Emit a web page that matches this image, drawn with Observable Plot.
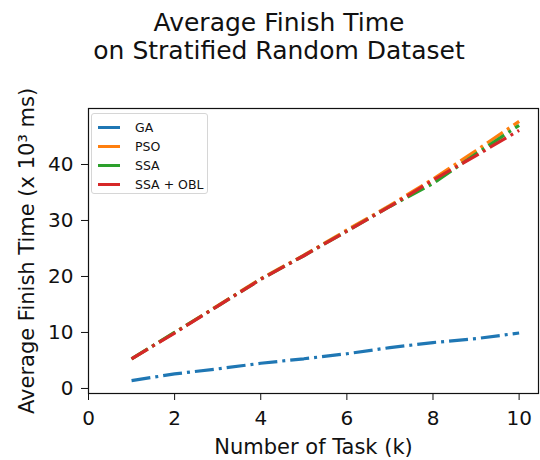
<!DOCTYPE html>
<html>
<head>
<meta charset="utf-8">
<script src="https://cdn.jsdelivr.net/npm/d3@7"></script>
<script src="https://cdn.jsdelivr.net/npm/@observablehq/plot@0.6"></script>
<style>
  body { margin: 0; background: #fff; font-family: "DejaVu Sans", sans-serif; }
  #wrap { position: relative; width: 540px; height: 460px; overflow: hidden; }
  #chart { position: absolute; left: 0; top: 60px; }
  #title { position: absolute; left: 0; top: 9px; width: 558px; text-align: center;
           font-size: 25px; line-height: 28px; color: #111; }
  #legend { position: absolute; left: 91px; top: 113px; width: 117px; height: 81px;
            box-sizing: border-box; border: 1px solid #d6d6d6; border-radius: 3px;
            background: rgba(255,255,255,0.85); font-size: 12.5px; color: #111; }
  .row { position: absolute; left: 0; height: 19px; line-height: 19px; width: 100%; }
  .sw { position: absolute; left: 6px; top: 8px; width: 22px; height: 3px; }
  .lab { position: absolute; left: 43px; top: 0; white-space: nowrap; }
</style>
</head>
<body>
<div id="wrap">
  <div id="chart"></div>
  <div id="title">Average Finish Time<br>on Stratified Random Dataset</div>
  <div id="legend"></div>
</div>
<script>
// Average finish time (x10^3 ms) per number of tasks, for each scheduler
const tasks = [1, 2, 3, 4, 5, 6, 7, 8, 9, 10];
const seriesNames = ["GA", "PSO", "SSA", "SSA + OBL"];
const ga     = [1.4, 2.6, 3.5, 4.5, 5.3, 6.2, 7.3, 8.2, 8.9, 9.9];
const pso    = [5.3, 10.0, 14.8, 19.6, 23.8, 28.3, 32.7, 37.4, 42.5, 47.7];
const ssa    = [5.3, 10.0, 14.7, 19.5, 23.7, 28.1, 32.5, 36.6, 41.9, 47.0];
const ssaObl = [5.3, 9.9, 14.7, 19.5, 23.7, 28.1, 32.5, 37.2, 41.6, 46.1];
const colors = ["#1f77b4", "#ff7f0e", "#2ca02c", "#d62728"];
const xTicks = [0, 2, 4, 6, 8, 10];
const yTicks = [0, 10, 20, 30, 40];
const xLabel = "Number of Task (k)";
const yLabel = "Average Finish Time (x 10\u00B3 ms)";

const values = [ga, pso, ssa, ssaObl];
const rows = seriesNames.flatMap((name, i) =>
  tasks.map((k, j) => ({ k, v: values[i][j], name })));

const chart = Plot.plot({
  width: 540,
  height: 400,
  marginTop: 48,
  marginBottom: 67,
  marginLeft: 88,
  marginRight: 2,
  style: { fontFamily: "DejaVu Sans", fontSize: "20px", color: "#111", background: "transparent" },
  x: { domain: [0, 10.45] },
  y: { domain: [-0.9, 50] },
  color: { domain: seriesNames, range: colors },
  marks: [
    Plot.axisX({ ticks: xTicks, tickSize: 7, tickPadding: 10, label: null }),
    Plot.axisY({ ticks: yTicks, tickSize: 7, tickPadding: 8, label: null }),
    Plot.line(rows, {
      x: "k", y: "v", z: "name", stroke: "name",
      strokeWidth: 3.2, strokeDasharray: "19,5,3,5",
      strokeLinecap: "butt", strokeLinejoin: "miter"
    }),
    Plot.frame({ stroke: "#111", strokeWidth: 1.2 }),
    Plot.text([xLabel], { frameAnchor: "bottom", dy: 60, text: d => d, fontSize: 21, fill: "#111" }),
    Plot.text([yLabel], { frameAnchor: "left", textAnchor: "middle", dx: -61, rotate: -90,
                          text: d => d, fontSize: 21, fill: "#111" })
  ]
});
document.getElementById("chart").appendChild(chart);

// Legend box in the upper-left corner of the plot area
const legend = document.getElementById("legend");
seriesNames.forEach((name, i) => {
  const row = document.createElement("div");
  row.className = "row";
  row.style.top = (3.5 + i * 19) + "px";
  const sw = document.createElement("div");
  sw.className = "sw";
  sw.style.background = colors[i];
  const lab = document.createElement("div");
  lab.className = "lab";
  lab.textContent = name;
  row.appendChild(sw);
  row.appendChild(lab);
  legend.appendChild(row);
});
</script>
</body>
</html>
